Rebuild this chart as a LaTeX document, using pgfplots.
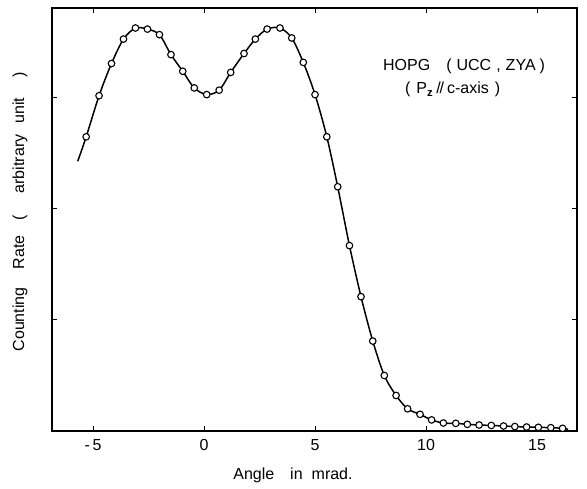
\documentclass[border=0pt]{standalone}
\usepackage{fontspec}
\setmainfont{Liberation Sans}
\usepackage{pgfplots}
\usepackage{pgfplotstable}
\pgfplotsset{compat=1.18}

\pgfplotstableread{
x y
-5.69 2.43
-5.31 2.65
-4.73 3.02
-4.17 3.31
-3.63 3.53
-3.09 3.63
-2.55 3.62
-2.01 3.57
-1.49 3.39
-0.96 3.24
-0.44 3.09
0.12 3.03
0.68 3.07
1.20 3.23
1.80 3.40
2.31 3.53
2.84 3.62
3.42 3.63
3.95 3.54
4.47 3.32
5.00 3.03
5.53 2.65
6.02 2.20
6.55 1.67
7.07 1.21
7.60 0.81
8.12 0.50
8.65 0.32
9.17 0.20
9.73 0.15
10.25 0.10
10.78 0.072
11.34 0.069
11.86 0.060
12.39 0.054
12.94 0.050
13.49 0.045
14.00 0.040
14.53 0.036
15.06 0.033
15.62 0.030
16.15 0.024
16.40 0.015
}\dataLine

\pgfplotstableread{
x y
-5.31 2.65
-4.73 3.02
-4.17 3.31
-3.63 3.53
-3.09 3.63
-2.55 3.62
-2.01 3.57
-1.49 3.39
-0.96 3.24
-0.44 3.09
0.12 3.03
0.68 3.07
1.20 3.23
1.80 3.40
2.31 3.53
2.84 3.62
3.42 3.63
3.95 3.54
4.47 3.32
5.00 3.03
5.53 2.65
6.02 2.20
6.55 1.67
7.07 1.21
7.60 0.81
8.12 0.50
8.65 0.32
9.17 0.20
9.73 0.15
10.25 0.10
10.78 0.072
11.34 0.069
11.86 0.060
12.39 0.054
12.94 0.050
13.49 0.045
14.00 0.040
14.53 0.036
15.06 0.033
15.62 0.030
16.15 0.024
}\dataPts

\begin{document}
\begin{tikzpicture}
\path[use as bounding box] (-52pt,-57pt) rectangle (535pt,431pt);
\begin{axis}[
  at={(0pt,0pt)}, anchor=south west,
  scale only axis,
  width=525pt, height=423pt,
  xmin=-6.85, xmax=16.8,
  ymin=0, ymax=3.81,
  xtick={-5,0,5,10,15},
  xticklabels={{-\,5},0,5,10,15},
  ytick={1,2,3},
  yticklabels={},
  tick align=inside,
  major tick length=5pt,
  tick style={line width=1pt,black},
  axis line style={line width=1.4pt},
  /pgf/number format/assume math mode=true,
  xticklabel style={font=\fontsize{16}{18}\selectfont, yshift=-5pt},
  xlabel={Angle\hspace{16pt}in\hspace{9pt}mrad.},
  ylabel={Counting\hspace{18pt}Rate\hspace{15pt}(\hspace{22pt}arbitrary\hspace{11pt}unit\hspace{20pt})},
  xlabel style={font=\fontsize{16}{18}\selectfont, at={(axis description cs:0.459,-0.106)}, anchor=center},
  ylabel style={font=\fontsize{16}{18}\selectfont, at={(axis description cs:-0.061,0.518)}, anchor=center, rotate=0},
  clip=false,
]
\addplot[black, line width=1.5pt, smooth, no markers] table[x=x,y=y] {\dataLine};
\addplot[only marks, mark=*, mark size=3.3pt, mark options={fill=white, draw=black, line width=1.1pt}] table[x=x,y=y] {\dataPts};
\node[anchor=base west, font=\fontsize{16}{18}\selectfont, inner sep=0pt] at (axis cs:8.06,3.243) {HOPG\hspace{16pt}(\hspace{5pt}UCC\hspace{5pt},\hspace{5pt}ZYA\hspace{4pt})};
\node[anchor=base west, font=\fontsize{16}{18}\selectfont, inner sep=0pt] at (axis cs:9.05,3.036) {(\hspace{6pt}P\textsubscript{\textbf{z}}\hspace{3pt}/\kern-1pt/\hspace{3pt}c-axis\hspace{6pt})};
\end{axis}
\end{tikzpicture}
\end{document}
